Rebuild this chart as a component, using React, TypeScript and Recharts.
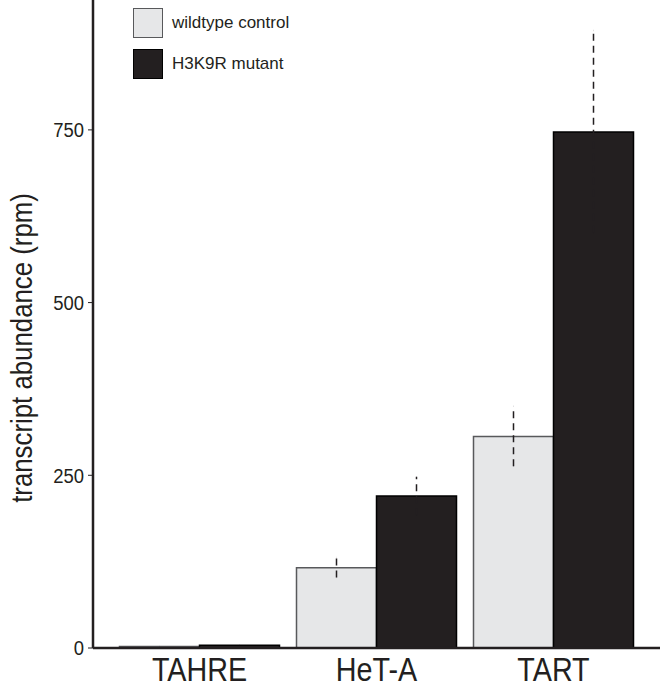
import React from 'react';
import { BarChart, Bar, XAxis, YAxis, ErrorBar } from 'recharts';

const categories = ['TAHRE', 'HeT-A', 'TART'];
const wildtype = [2, 116, 306];
const mutant = [4, 220, 747];
const wildtypeErrLow = [0, 14, 43];
const wildtypeErrHigh = [0, 15, 44];
const mutantErrLow = [0, 28, 146];
const mutantErrHigh = [0, 28, 147];
const yTicks = [0, 250, 500, 750];

const seriesNames = ['wildtype control', 'H3K9R mutant'];
const WT_FILL = '#e6e7e8';
const WT_STROKE = '#58595b';
const MUT_FILL = '#231f20';
const INK = '#231f20';
const FONT = '"Liberation Sans", Arial, Helvetica, sans-serif';

const data = categories.map((name, i) => ({
  name,
  wildtype: wildtype[i],
  mutant: mutant[i],
  wtErr: [wildtypeErrLow[i], wildtypeErrHigh[i]],
  mutErr: [mutantErrLow[i], mutantErrHigh[i]],
}));

const XTick = (props: any) => {
  const { x, y, payload } = props;
  return (
    <text
      transform={`translate(${x}, ${y + 25}) scale(0.87, 1)`}
      textAnchor="middle"
      fontFamily={FONT}
      fontSize={33}
      fill={INK}
    >
      {payload.value}
    </text>
  );
};

const YTick = (props: any) => {
  const { x, y, payload } = props;
  return (
    <text
      transform={`translate(${x - 2}, ${y}) scale(0.88, 1)`}
      textAnchor="end"
      dominantBaseline="central"
      fontFamily={FONT}
      fontSize={21}
      fill={INK}
    >
      {payload.value}
    </text>
  );
};

const YLabel = (props: any) => {
  const vb = props.viewBox || { x: 0, y: 0, width: 93, height: 648 };
  const cx = vb.x + 22;
  const cy = vb.y + vb.height * 0.537;
  return (
    <text
      transform={`translate(${cx}, ${cy}) rotate(-90) scale(0.89, 1)`}
      textAnchor="middle"
      dominantBaseline="central"
      fontFamily={FONT}
      fontSize={29}
      fill={INK}
    >
      transcript abundance (rpm)
    </text>
  );
};

const LegendBox = () => (
  <div
    style={{
      position: 'absolute',
      left: 133,
      top: 8,
      fontFamily: FONT,
      fontSize: 17,
      color: INK,
      pointerEvents: 'none',
    }}
  >
    {seriesNames.map((n, i) => (
      <div
        key={n}
        style={{ display: 'flex', alignItems: 'center', height: 30, marginBottom: i === 0 ? 11 : 0 }}
      >
        <div
          style={{
            width: 28,
            height: 28,
            background: i === 0 ? WT_FILL : MUT_FILL,
            border: `1px solid ${i === 0 ? WT_STROKE : '#000'}`,
            marginRight: 9,
          }}
        />
        <span style={{ whiteSpace: 'nowrap' }}>{n}</span>
      </div>
    ))}
  </div>
);

export default function App() {
  return (
    <div style={{ position: 'absolute', left: 0, top: 0, width: 664, height: 690, background: '#fff' }}>
      <BarChart
        width={664}
        height={690}
        data={data}
        margin={{ top: 0, right: 4, bottom: 0, left: 0 }}
        barGap={0}
        barCategoryGap={8.5}
      >
        <XAxis
          dataKey="name"
          height={42}
          padding={{ left: 18, right: 18 }}
          tickLine={false}
          axisLine={{ stroke: INK, strokeWidth: 2.5 }}
          tick={<XTick />}
          interval={0}
        />
        <YAxis
          width={93}
          domain={[0, 938]}
          ticks={yTicks}
          allowDataOverflow
          tickSize={5}
          tickLine={{ stroke: INK, strokeWidth: 1 }}
          axisLine={{ stroke: INK, strokeWidth: 2.5 }}
          tick={<YTick />}
          label={<YLabel />}
        />
        <Bar dataKey="wildtype" name={seriesNames[0]} fill={WT_FILL} stroke={WT_STROKE} strokeWidth={1.5} isAnimationActive={false}>
          <ErrorBar dataKey="wtErr" width={0} stroke={INK} strokeWidth={1.5} strokeDasharray="7 5" />
        </Bar>
        <Bar dataKey="mutant" name={seriesNames[1]} fill={MUT_FILL} stroke="#000" strokeWidth={1.5} isAnimationActive={false}>
          <ErrorBar dataKey="mutErr" width={0} stroke={INK} strokeWidth={1.5} strokeDasharray="7 5" />
        </Bar>
      </BarChart>
      <LegendBox />
    </div>
  );
}
